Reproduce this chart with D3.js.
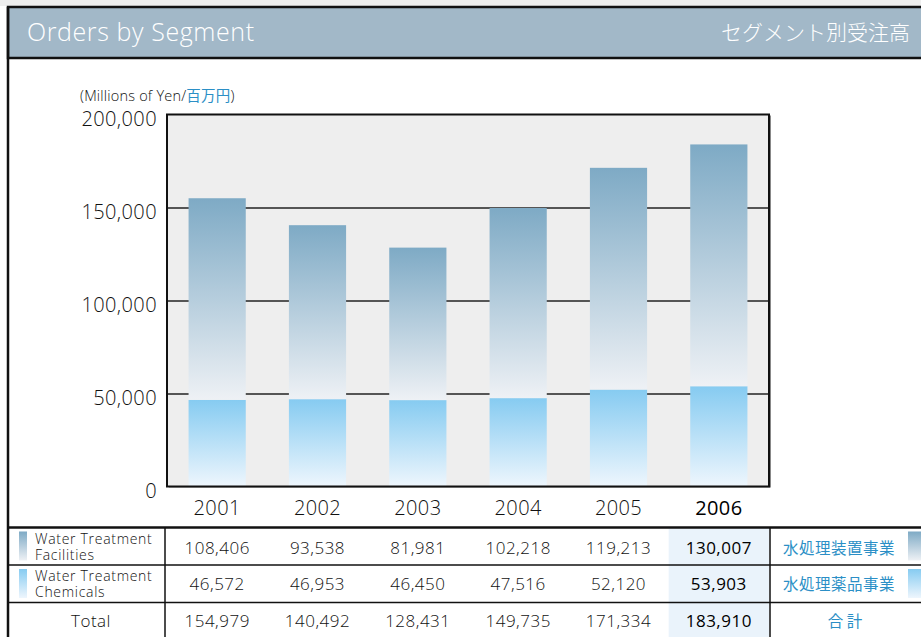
<!DOCTYPE html>
<html>
<head>
<meta charset="utf-8">
<script src="https://cdn.jsdelivr.net/npm/d3@7"></script>
<style>
  body { margin: 0; background: #fff; }
  svg { display: block; font-family: 'Open Sans', sans-serif; font-weight: 300; }
  .jp { font-family: 'Noto Sans CJK JP', sans-serif; font-weight: 400; }
</style>
</head>
<body>
<svg width="921" height="637"></svg>
<script>
const years = ['2001', '2002', '2003', '2004', '2005', '2006']
const facilities = [108406, 93538, 81981, 102218, 119213, 130007]
const chemicals = [46572, 46953, 46450, 47516, 52120, 53903]
const totals = [154979, 140492, 128431, 149735, 171334, 183910]
const yTicks = [0, 50000, 100000, 150000, 200000]
const seriesNames = [['Water Treatment', 'Facilities'], ['Water Treatment', 'Chemicals']]
const seriesNamesJp = ['水処理装置事業', '水処理薬品事業']

const width = 921
const height = 637
const plot = { left: 167, right: 769, top: 114.5, bottom: 486.5 }
const blue = '#2b8fc6'
const ink = '#111'

const svg = d3.select('svg')
const defs = svg.append('defs')

// gradients
const grad = (id, top, bottom) => {
  const g = defs.append('linearGradient').attr('id', id)
    .attr('x1', 0).attr('y1', 0).attr('x2', 0).attr('y2', 1)
  g.append('stop').attr('offset', '0%').attr('stop-color', top)
  g.append('stop').attr('offset', '100%').attr('stop-color', bottom)
}
grad('gFac', '#7eaac5', '#eef1f5')
grad('gChem', '#86cbf1', '#eef6fd')

// frame + header
svg.append('rect').attr('x', 0).attr('y', 0).attr('width', width).attr('height', 6).attr('fill', '#eeeeee')
svg.append('rect').attr('x', 8).attr('y', 7).attr('width', width).attr('height', 51)
  .attr('fill', '#a2b8c8').attr('stroke', '#111').attr('stroke-width', 2.5)
svg.append('line').attr('x1', 8).attr('x2', 8).attr('y1', 7).attr('y2', height)
  .attr('stroke', '#111').attr('stroke-width', 2.5)

svg.append('text').attr('x', 27).attr('y', 41)
  .attr('fill', '#fff').style('font-size', '25px').style('letter-spacing', '0.6px')
  .text('Orders by Segment')
svg.append('text').attr('class', 'jp').attr('x', 910).attr('y', 40)
  .attr('text-anchor', 'end').attr('fill', '#fff').style('font-size', '21px')
  .style('font-weight', 300)
  .text('セグメント別受注高')

// unit label
const unit = svg.append('text').attr('x', 80).attr('y', 101)
  .attr('fill', ink).style('font-size', '14.5px').style('letter-spacing', '0.2px')
unit.append('tspan').text('(Millions of Yen/')
unit.append('tspan').attr('class', 'jp').attr('fill', blue).style('fill', blue).text('百万円')
unit.append('tspan').text(')')

// scales
const x = d3.scaleBand()
  .domain(years)
  .range([plot.left, plot.right])
  .paddingInner(0.43)
  .paddingOuter(0.215)

const y = d3.scaleLinear()
  .domain([0, 200000])
  .range([plot.bottom, plot.top])

// plot background
svg.append('rect')
  .attr('x', plot.left + 2).attr('y', plot.top + 1)
  .attr('width', plot.right - plot.left).attr('height', plot.bottom - plot.top)
  .attr('fill', '#888')
svg.append('rect')
  .attr('x', plot.left).attr('y', plot.top)
  .attr('width', plot.right - plot.left).attr('height', plot.bottom - plot.top)
  .attr('fill', '#eeeeee')

// gridlines
svg.append('g')
  .attr('transform', `translate(${plot.left},0)`)
  .call(d3.axisLeft(y).tickValues(yTicks.slice(1, -1)).tickSize(-(plot.right - plot.left)).tickFormat(''))
  .call(g => g.select('.domain').remove())
  .call(g => g.selectAll('line').attr('stroke', '#222').attr('stroke-width', 1.6))

// stacked bars
const stackData = years.map((yr, i) => ({ year: yr, chem: chemicals[i], fac: facilities[i] }))
const stack = d3.stack().keys(['chem', 'fac'])(stackData)
const fills = { chem: 'url(#gChem)', fac: 'url(#gFac)' }

svg.append('g').selectAll('g')
  .data(stack)
  .enter().append('g')
  .attr('fill', d => fills[d.key])
  .selectAll('rect')
  .data(d => d)
  .enter().append('rect')
  .attr('x', d => x(d.data.year))
  .attr('width', x.bandwidth())
  .attr('y', d => y(d[1]))
  .attr('height', d => y(d[0]) - y(d[1]))

// plot border
svg.append('rect')
  .attr('x', plot.left).attr('y', plot.top)
  .attr('width', plot.right - plot.left).attr('height', plot.bottom - plot.top)
  .attr('fill', 'none').attr('stroke', '#111').attr('stroke-width', 2)

// y axis labels
svg.append('g')
  .attr('transform', `translate(${plot.left},0)`)
  .call(d3.axisLeft(y).tickValues(yTicks).tickSize(0).tickPadding(10).tickFormat(d3.format(',')))
  .call(g => g.select('.domain').remove())
  .call(g => g.selectAll('text')
    .attr('fill', ink).style('font-size', '20px')
    .style('font-family', "'Open Sans', sans-serif")
    .style('letter-spacing', '0.4px')
    .attr('dy', '0.32em')
    .attr('transform', 'translate(0,5)'))

// x axis labels
svg.append('g')
  .attr('transform', `translate(0,${plot.bottom})`)
  .call(d3.axisBottom(x).tickSize(0).tickPadding(14))
  .call(g => g.select('.domain').remove())
  .call(g => g.selectAll('text')
    .attr('fill', d => d === '2006' ? '#000' : ink)
    .style('font-weight', d => d === '2006' ? 400 : 300)
    .style('font-size', '20px')
    .style('letter-spacing', '0.4px')
    .style('font-family', "'Open Sans', sans-serif"))

// table
const rowLines = [527.5, 565, 602.5]
const rowBase = [554, 590, 627]
const last = years[years.length - 1]

svg.append('rect')
  .attr('x', x(last) - (x.step() - x.bandwidth()) / 2)
  .attr('y', rowLines[0] + 1)
  .attr('width', plot.right - (x(last) - (x.step() - x.bandwidth()) / 2))
  .attr('height', height - rowLines[0])
  .attr('fill', '#eaf3fb')

svg.selectAll('.hline')
  .data(rowLines)
  .enter().append('line')
  .attr('x1', 8).attr('x2', width)
  .attr('y1', d => d).attr('y2', d => d)
  .attr('stroke', '#111')
  .attr('stroke-width', (d, i) => i === 0 ? 2.5 : 1.5)

;[165, plot.right + 1].forEach(vx => {
  svg.append('line').attr('x1', vx).attr('x2', vx)
    .attr('y1', rowLines[0]).attr('y2', height)
    .attr('stroke', '#111').attr('stroke-width', 1.5)
})

const rows = [facilities, chemicals, totals]
const fmt = d3.format(',')
rows.forEach((vals, r) => {
  svg.append('g').selectAll('text')
    .data(vals)
    .enter().append('text')
    .attr('x', (d, i) => x(years[i]) + x.bandwidth() / 2)
    .attr('y', rowBase[r])
    .attr('text-anchor', 'middle')
    .attr('fill', (d, i) => years[i] === last ? '#000' : ink)
    .style('font-weight', (d, i) => years[i] === last ? 400 : 300)
    .style('font-size', '17px')
    .style('letter-spacing', '0.5px')
    .text(d => fmt(d))
})

// left row labels with swatches (two-line label in one text)
const swatchFills = ['url(#gFac)', 'url(#gChem)']
seriesNames.forEach((lines, r) => {
  svg.append('rect').attr('x', 19).attr('y', rowLines[r] + 4).attr('width', 8).attr('height', 29)
    .attr('fill', swatchFills[r])
  const t = svg.append('text').attr('x', 35).attr('y', rowLines[r] + 16)
    .attr('fill', ink).style('font-size', '14px').style('letter-spacing', '0.7px')
  t.append('tspan').attr('x', 35).text(lines[0])
  t.append('tspan').attr('x', 35).attr('dy', 16).text(lines[1])
})
svg.append('text').attr('x', 91).attr('y', rowBase[2])
  .attr('text-anchor', 'middle').attr('fill', ink).style('font-size', '17px')
  .style('letter-spacing', '0.5px')
  .text('Total')

// right japanese labels
seriesNamesJp.forEach((t, r) => {
  svg.append('text').attr('class', 'jp').attr('x', 783).attr('y', rowBase[r])
    .attr('fill', blue).style('font-size', '15.5px').style('letter-spacing', '0.5px').text(t)
  svg.append('rect').attr('x', 908).attr('y', rowLines[r] + 4).attr('width', 14).attr('height', 29)
    .attr('fill', swatchFills[r])
})
svg.append('text').attr('class', 'jp').attr('x', 845).attr('y', rowBase[2])
  .attr('text-anchor', 'middle').attr('fill', blue).style('font-size', '15.5px')
  .text('合 計')
</script>
</body>
</html>
